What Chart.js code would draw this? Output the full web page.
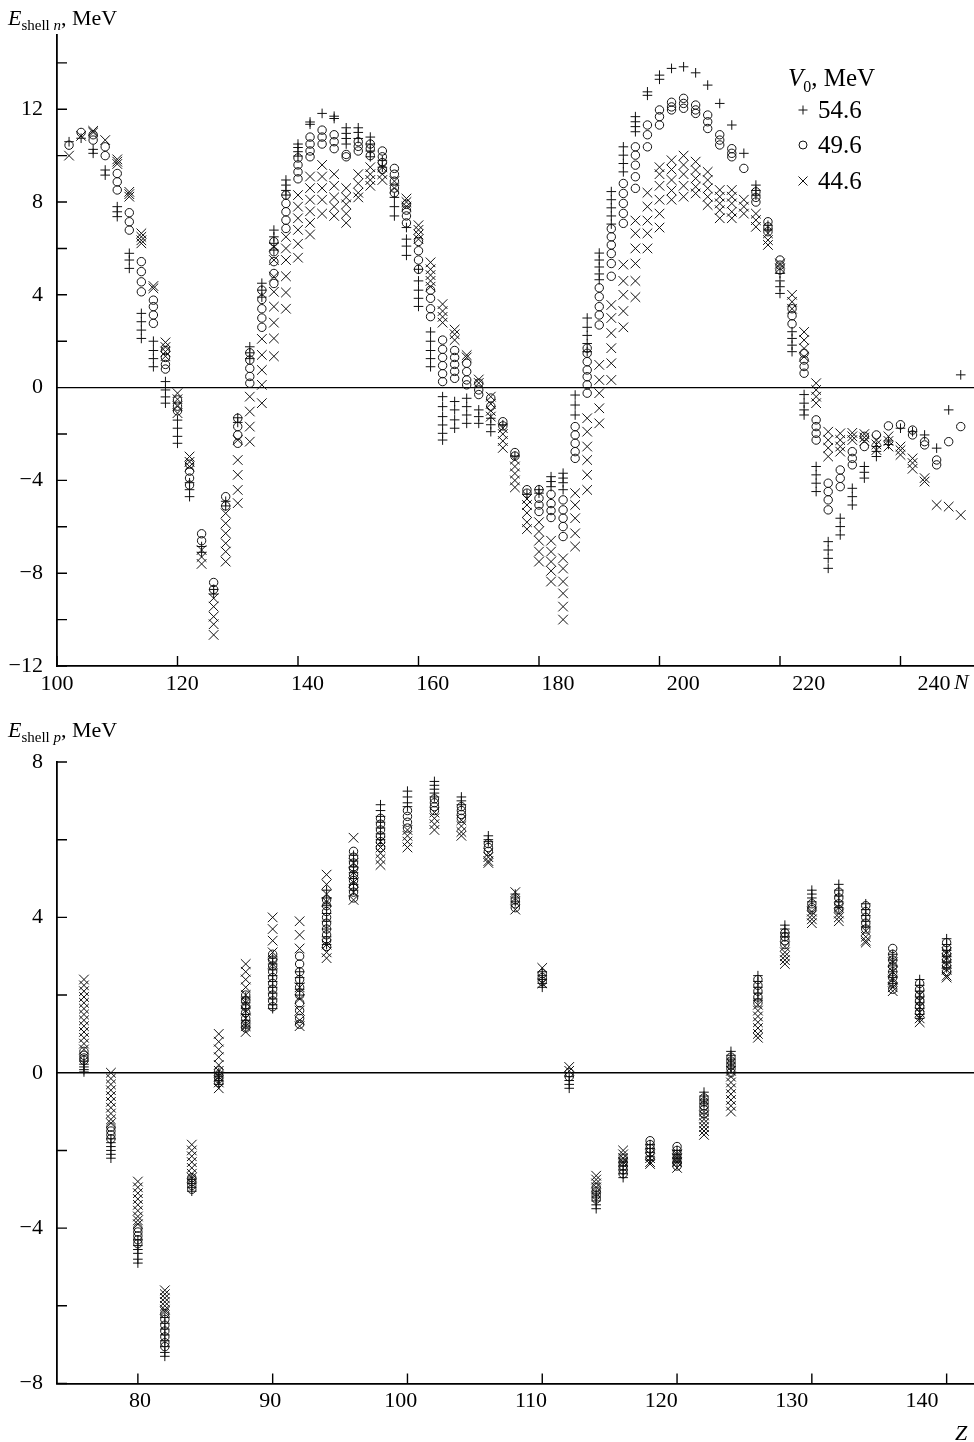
<!DOCTYPE html>
<html>
<head>
<meta charset="utf-8">
<script src="https://cdn.jsdelivr.net/npm/chart.js@4.4.1/dist/chart.umd.min.js"></script>
<style>
  html, body { margin: 0; padding: 0; background: #fff; }
  #wrap { position: relative; width: 974px; height: 1442px; }
  canvas { position: absolute; left: 0; }
</style>
</head>
<body>
<div id="wrap">
  <canvas id="shellN" width="974" height="710" style="top:0"></canvas>
  <canvas id="shellP" width="974" height="732" style="top:710px"></canvas>
</div>
<script>
// potential depths, MeV
const depthLabels = ['54.6', '49.6', '44.6'];

// ---- neutron shell correction vs N ----
const neutronN = [102, 104, 106, 108, 110, 112, 114, 116, 118, 120, 122, 124, 126, 128, 130, 132, 134, 136, 138, 140,
  142, 144, 146, 148, 150, 152, 154, 156, 158, 160, 162, 164, 166, 168, 170, 172, 174, 176, 178, 180,
  182, 184, 186, 188, 190, 192, 194, 196, 198, 200, 202, 204, 206, 208, 210, 212, 214, 216, 218, 220,
  222, 224, 226, 228, 230, 232, 234, 236, 238, 240, 242, 244, 246, 248, 250];

const nPlus = [
  [10.6], [10.75], [10.27, 10.1], [9.38, 9.16], [7.8, 7.58, 7.37], [5.79, 5.5, 5.14], [3.2, 2.84, 2.48, 2.12],
  [2.0, 1.6, 1.25, 0.9], [0.26, -0.1, -0.4, -0.67], [-1.4, -1.75, -2.1, -2.4], [-4.1, -4.4, -4.7],
  [-6.85, -7.1], [-8.7, -8.9], [-4.9, -5.1], [-1.3, -1.5], [1.76, 1.5, 1.25], [4.5, 4.2, 3.9],
  [6.79, 6.5, 6.22, 5.93], [8.95, 8.73, 8.5, 8.3], [10.5, 10.35, 10.17, 9.98],
  [11.45, 11.35], [11.82], [11.7, 11.6], [11.2, 10.96, 10.74, 10.5], [11.2, 11.0, 10.74],
  [10.8, 10.5, 10.2, 9.95], [9.8, 9.5], [8.2, 7.8, 7.4], [6.9, 6.4, 6.1, 5.7], [5.1, 4.6, 4.2, 3.85, 3.5],
  [2.4, 2.0, 1.6, 1.25, 0.9], [-0.39, -0.82, -1.25, -1.61, -1.97, -2.26], [-0.6, -0.96, -1.39, -1.75],
  [-0.46, -0.82, -1.18, -1.54], [-0.96, -1.25, -1.54], [-1.32, -1.6, -1.9], [-1.6], [-2.95], [-4.6],
  [-4.4, -4.55],
  [-3.84, -4.05, -4.27], [-3.69, -3.9, -4.1, -4.4], [-0.32, -0.75, -1.18], [3.0, 2.6, 2.25, 1.9, 1.55],
  [5.8, 5.5, 5.2, 4.9, 4.65], [8.45, 8.1, 7.75, 7.4, 7.05], [10.38, 10.02, 9.66, 9.3],
  [11.68, 11.46, 11.25, 11.03], [12.75, 12.6], [13.47, 13.29], [13.76], [13.83], [13.57], [13.04],
  [12.25], [11.32], [10.1], [8.73, 8.5, 8.3], [7.0, 6.8], [4.92, 4.6, 4.35, 4.06],
  [2.41, 2.12, 1.83, 1.55], [-0.3, -0.67, -0.96, -1.18], [-3.4, -3.76, -4.12, -4.48],
  [-6.64, -7.0, -7.36, -7.79], [-5.63, -5.99, -6.35], [-4.34, -4.7, -5.06], [-3.4, -3.65, -3.9],
  [-2.54, -2.75, -2.97], [-2.3, -2.45], [-1.75], [-1.9], [-2.04], [-2.61], [-0.96], [0.55]
];

const nCircle = [
  [10.45], [11.0], [10.9, 10.67], [10.38, 10.0], [9.23, 8.87, 8.52], [7.54, 7.15, 6.79], [5.43, 5.0, 4.56, 4.13],
  [3.77, 3.49, 3.13, 2.77], [1.6, 1.3, 1.0, 0.8], [-0.53, -0.8, -1.0], [-3.3, -3.6, -3.9, -4.2],
  [-6.3, -6.6], [-8.4, -8.7], [-4.7, -5.1], [-1.32, -1.68, -2.04, -2.4], [1.5, 1.19, 0.83, 0.48, 0.19],
  [4.2, 3.8, 3.4, 3.0, 2.6], [6.29, 5.86, 5.43, 4.92, 4.49], [8.3, 7.94, 7.58, 7.22, 6.86], [9.9, 9.6, 9.3, 9.0],
  [10.8, 10.5, 10.2, 9.95], [11.1, 10.8, 10.5], [10.9, 10.6, 10.3], [10.05, 9.95], [10.6, 10.4, 10.2],
  [10.5, 10.3, 10.0], [10.2, 9.95, 9.7, 9.4], [9.45, 9.2, 8.9, 8.6, 8.4], [7.9, 7.65, 7.4, 7.1], [6.3, 5.9, 5.5, 5.1],
  [4.2, 3.85, 3.4, 3.06], [2.05, 1.65, 1.3, 0.95, 0.6, 0.26], [1.6, 1.3, 1.0, 0.7, 0.4],
  [1.05, 0.69, 0.33, 0.12], [0.19, -0.1, -0.3], [-0.45, -0.8], [-1.47, -1.65], [-2.8, -2.95], [-4.4, -4.55],
  [-4.4, -4.77, -5.06, -5.34],
  [-4.6, -5.0, -5.3, -5.6], [-4.84, -5.27, -5.63, -5.99, -6.42], [-1.68, -2.04, -2.4, -2.76, -3.05],
  [1.7, 1.48, 1.12, 0.76, 0.47, 0.12, -0.24], [4.3, 3.92, 3.49, 3.13, 2.7], [6.85, 6.5, 6.15, 5.78, 5.35, 4.8],
  [8.8, 8.37, 7.94, 7.51, 7.08], [10.38, 10.02, 9.59, 9.09, 8.59], [11.32, 10.9, 10.38], [11.97, 11.68, 11.32],
  [12.3, 12.1, 11.97], [12.47, 12.25, 12.04], [12.18, 11.97, 11.82], [11.75, 11.46, 11.17],
  [10.9, 10.67, 10.46], [10.3, 10.1, 9.95], [9.45], [8.44, 8.2, 8.0], [7.15, 6.93, 6.72], [5.5, 5.28, 5.07],
  [3.4, 3.1, 2.75], [1.48, 1.19, 0.91, 0.62], [-1.39, -1.68, -1.97, -2.26], [-4.12, -4.48, -4.84, -5.27],
  [-3.55, -3.91, -4.27], [-2.76, -3.05, -3.33], [-2.1, -2.54], [-2.04], [-1.65], [-1.6], [-1.83, -2.04],
  [-2.33, -2.47], [-3.12, -3.33], [-2.33], [-1.68]
];

const nCross = [
  [10.0], [10.85], [11.07, 11.0], [10.67], [9.84, 9.74, 9.64], [8.44, 8.34, 8.23], [6.65, 6.5, 6.35, 6.22],
  [4.38, 4.28], [1.95, 1.75, 1.55, 1.35], [-0.24, -0.5, -0.8, -1.1], [-2.97, -3.2, -3.4],
  [-7.0, -7.3, -7.6], [-9.08, -9.44, -9.87, -10.2, -10.66], [-5.42, -5.85, -6.28, -6.71, -7.07, -7.5],
  [-2.26, -3.12, -3.76, -4.41, -4.98], [-0.39, -1.03, -1.68, -2.33], [2.1, 1.41, 0.76, 0.12, -0.67],
  [6.07, 5.5, 4.78, 4.13, 3.49, 2.8, 2.12, 1.35], [6.5, 6.0, 5.5, 4.8, 4.1, 3.4], [8.3, 7.8, 7.3, 6.8, 6.2, 5.6],
  [9.1, 8.6, 8.1, 7.6, 7.1, 6.6], [9.6, 9.1, 8.6, 8.1, 7.5], [9.2, 8.7, 8.2, 7.8, 7.4], [8.6, 8.2, 7.9, 7.5, 7.1],
  [9.2, 8.8, 8.4, 8.2], [9.5, 9.2, 8.95, 8.7], [9.5, 9.2, 8.95], [8.9, 8.6], [8.15, 8.0, 7.8], [7.0, 6.8, 6.6, 6.4],
  [5.4, 5.1, 4.85, 4.6, 4.35], [3.6, 3.3, 3.05, 2.8], [2.5, 2.3, 2.05], [1.4, 1.3], [0.35, 0.2],
  [-0.39, -0.7, -1.0, -1.25], [-1.75, -2.0, -2.3, -2.6], [-3.1, -3.4, -3.7, -4.0, -4.3],
  [-4.8, -5.06, -5.4, -5.8, -6.1], [-5.8, -6.2, -6.6, -7.07, -7.5],
  [-6.6, -7.07, -7.5, -7.9, -8.36], [-7.36, -7.8, -8.36, -8.87, -9.44, -10.0], [-4.55, -5.06, -5.63, -6.28, -6.85],
  [-1.32, -1.9, -2.54, -3.12, -3.76, -4.41], [0.98, 0.33, -0.24, -0.89, -1.54], [3.56, 3.0, 2.35, 1.7, 1.05, 0.33],
  [5.3, 4.6, 4.0, 3.3, 2.6], [7.2, 6.65, 6.0, 5.35, 4.6, 3.9], [8.4, 7.8, 7.2, 6.65, 6.0],
  [9.5, 9.2, 8.7, 8.1, 7.5, 6.9], [9.8, 9.4, 8.95, 8.5, 8.1], [10.0, 9.6, 9.2, 8.7, 8.23],
  [9.74, 9.38, 9.02, 8.66, 8.37], [9.3, 8.95, 8.59, 8.23, 7.87], [8.52, 8.23, 7.94, 7.65, 7.3],
  [8.52, 8.23, 7.94, 7.58, 7.3], [8.1, 7.8, 7.5], [7.5, 7.22, 6.93], [6.65, 6.36, 6.15], [5.35, 5.14],
  [4.0, 3.7, 3.4], [2.4, 2.05, 1.69, 1.33], [0.19, -0.1, -0.39, -0.67], [-1.9, -2.26, -2.6, -2.97],
  [-1.97, -2.26, -2.54, -2.76], [-1.95, -2.1, -2.26], [-2.0, -2.15, -2.3], [-2.26, -2.45, -2.69],
  [-2.1, -2.3, -2.54], [-2.54, -2.7, -2.9], [-3.05, -3.25, -3.5], [-3.9, -4.05], [-5.06], [-5.13], [-5.49]
];

const nTicksX = [100, 120, 140, 160, 180, 200, 220, 240];
const nTicksY = [-12, -10, -8, -6, -4, -2, 0, 2, 4, 6, 8, 10, 12, 14];

// ---- proton shell correction vs Z ----
const protonZ = [76, 78, 80, 82, 84, 86, 88, 90, 92, 94, 96, 98, 100, 102, 104, 106, 108,
  110, 112, 114, 116, 118, 120, 122, 124, 126, 128, 130, 132, 134, 136, 138, 140];

const pPlus = [
  [0.3, 0.22, 0.15, 0.08, 0.02], [-1.7, -1.8, -1.9, -2.0, -2.1, -2.2], [-4.3, -4.45, -4.55, -4.65, -4.8, -4.9],
  [-6.3, -6.45, -6.6, -6.75, -6.9, -7.05, -7.2, -7.3], [-2.75, -2.85, -2.95, -3.05], [0.0, -0.1, -0.2, -0.3],
  [1.95, 1.8, 1.65, 1.5, 1.35, 1.2], [2.95, 2.8, 2.65, 2.5, 2.35, 2.2, 2.05, 1.9, 1.75, 1.65],
  [2.6, 2.45, 2.3, 2.15, 2.0], [4.7, 4.5, 4.3, 4.1, 3.9, 3.7, 3.5, 3.3], [5.6, 5.45, 5.3, 5.15, 5.0, 4.85, 4.7],
  [6.9, 6.75, 6.6, 6.45, 6.3, 6.15, 6.0], [7.25, 7.1, 6.95, 6.85], [7.5, 7.4, 7.3, 7.2, 7.1], [7.1, 7.0, 6.9],
  [6.1, 6.0, 5.95], [4.6, 4.5, 4.4],
  [2.6, 2.5, 2.4, 2.3, 2.2], [-0.1, -0.2, -0.3, -0.4], [-3.1, -3.2, -3.3, -3.4, -3.5], [-2.3, -2.4, -2.5, -2.6, -2.7],
  [-1.85, -1.95, -2.05, -2.15, -2.25], [-2.0, -2.1, -2.2, -2.3], [-0.5, -0.6, -0.7, -0.8],
  [0.55, 0.45, 0.35, 0.25, 0.15], [2.5, 2.35, 2.2, 2.05, 1.9], [3.8, 3.7, 3.6, 3.5], [4.7, 4.6, 4.5, 4.4],
  [4.85, 4.7, 4.55, 4.4, 4.25], [4.35, 4.2, 4.05, 3.9, 3.75], [3.05, 2.9, 2.75, 2.6, 2.45, 2.3],
  [2.4, 2.25, 2.1, 1.95, 1.8, 1.65, 1.5, 1.4], [3.45, 3.3, 3.15, 3.0, 2.85, 2.7]
];

const pCircle = [
  [0.55, 0.45, 0.38, 0.32], [-1.4, -1.5, -1.6, -1.7], [-4.0, -4.1, -4.2, -4.3, -4.4],
  [-6.2, -6.35, -6.5, -6.65, -6.8, -6.95, -7.05], [-2.7, -2.8, -2.9, -3.0], [0.05, -0.05, -0.15, -0.25],
  [2.0, 1.85, 1.7, 1.55, 1.4, 1.25, 1.15], [3.05, 2.9, 2.75, 2.6, 2.45, 2.3, 2.15, 2.0, 1.85, 1.7],
  [3.0, 2.8, 2.6, 2.4, 2.2, 2.0, 1.8, 1.6, 1.4, 1.25], [4.45, 4.3, 4.15, 4.0, 3.85, 3.7, 3.55, 3.4, 3.25],
  [5.7, 5.55, 5.4, 5.25, 5.1, 4.95, 4.8, 4.65, 4.5], [6.55, 6.4, 6.25, 6.1, 5.95, 5.8], [6.75, 6.6, 6.45, 6.3],
  [7.05, 6.95, 6.85, 6.75], [6.85, 6.75, 6.65, 6.55], [5.9, 5.8, 5.7], [4.45, 4.35, 4.25],
  [2.55, 2.45, 2.35], [0.0, -0.1], [-2.95, -3.05, -3.15, -3.25], [-2.2, -2.3, -2.4, -2.5, -2.6],
  [-1.75, -1.85, -1.95, -2.05], [-1.9, -2.0, -2.1, -2.2, -2.3, -2.4], [-0.65, -0.75, -0.85, -0.95, -1.05],
  [0.4, 0.3, 0.2, 0.1, 0.0], [2.4, 2.25, 2.1, 1.95, 1.8], [3.6, 3.5, 3.4, 3.3], [4.35, 4.25, 4.2],
  [4.65, 4.5, 4.35, 4.2], [4.3, 4.15, 4.0, 3.85, 3.7], [3.2, 3.05, 2.9, 2.75, 2.6, 2.45, 2.3, 2.15],
  [2.3, 2.15, 2.0, 1.85, 1.7, 1.55], [3.35, 3.2, 3.05, 2.9, 2.75, 2.6]
];

const pCross = [
  [2.4, 2.25, 2.1, 1.95, 1.8, 1.65, 1.5, 1.35, 1.2, 1.05, 0.9, 0.75, 0.6],
  [0.0, -0.15, -0.3, -0.45, -0.6, -0.75, -0.9, -1.05, -1.2, -1.3],
  [-2.8, -2.95, -3.1, -3.25, -3.4, -3.55, -3.7, -3.8, -3.9], [-5.6, -5.7, -5.8, -5.9, -6.0, -6.1, -6.15],
  [-1.85, -2.0, -2.15, -2.3, -2.45, -2.6, -2.7], [1.0, 0.8, 0.6, 0.4, 0.2, 0.05, -0.1, -0.25, -0.4],
  [2.8, 2.6, 2.4, 2.2, 2.0, 1.8, 1.6, 1.4, 1.2, 1.05], [4.0, 3.7, 3.4, 3.1, 2.8],
  [3.9, 3.55, 3.2, 2.2, 1.9, 1.6, 1.35, 1.2], [5.1, 4.85, 4.6, 4.4, 3.3, 3.1, 2.95],
  [6.05, 5.4, 5.15, 4.9, 4.65, 4.45], [5.95, 5.8, 5.65, 5.5, 5.35], [6.25, 6.1, 5.95, 5.8],
  [6.7, 6.55, 6.4, 6.25], [6.5, 6.35, 6.2, 6.1], [5.65, 5.55, 5.45, 5.4], [4.65, 4.2],
  [2.7, 2.3], [0.15, 0.05], [-2.65, -2.75, -2.85, -2.95], [-2.0, -2.1, -2.2, -2.3], [-2.1, -2.2, -2.3, -2.35],
  [-2.1, -2.2, -2.3, -2.45], [-1.0, -1.1, -1.2, -1.3, -1.4, -1.5, -1.6],
  [0.05, -0.1, -0.25, -0.4, -0.55, -0.7, -0.85, -1.0], [1.75, 1.6, 1.45, 1.3, 1.15, 1.0, 0.9],
  [3.25, 3.1, 3.0, 2.9, 2.8], [4.15, 4.05, 3.95, 3.85], [4.25, 4.1, 4.0, 3.9], [3.65, 3.5, 3.4, 3.35],
  [2.85, 2.6, 2.4, 2.2, 2.1], [2.0, 1.85, 1.7, 1.55, 1.4, 1.3], [3.1, 2.95, 2.8, 2.65, 2.5, 2.45]
];

const pTicksX = [80, 90, 100, 110, 120, 130, 140];
const pTicksY = [-8, -6, -4, -2, 0, 2, 4, 6, 8];

const SERIF = '"Liberation Serif", "Times New Roman", serif';
const minus = v => String(v).replace('-', '\u2212');

// flatten columns of values into {x, y} points
function columns(xs, cols) {
  return xs.flatMap((x, i) => cols[i].map(y => ({ x: x, y: y })));
}

function makeSets(xs, plus, circ, cross) {
  const base = { showLine: false, borderColor: '#111', backgroundColor: 'rgba(0,0,0,0)', pointBorderWidth: 1 };
  return [
    Object.assign({ label: depthLabels[0], data: columns(xs, plus), pointStyle: 'cross', pointRadius: 4.8 }, base),
    Object.assign({ label: depthLabels[1], data: columns(xs, circ), pointStyle: 'circle', pointRadius: 4.2 }, base),
    Object.assign({ label: depthLabels[2], data: columns(xs, cross), pointStyle: 'crossRot', pointRadius: 6.8 }, base)
  ];
}

// draws text runs with different fonts / baseline shifts
function runs(ctx, parts, x, y) {
  parts.forEach(p => {
    ctx.font = p[1];
    ctx.fillText(p[0], x, y + (p[2] || 0));
    x += ctx.measureText(p[0]).width;
  });
}

// zero line and inward tick marks
const frame = {
  id: 'frame',
  beforeDatasetsDraw(chart) {
    const { ctx, chartArea: a } = chart;
    const x = chart.scales.x, y = chart.scales.y;
    ctx.save();
    ctx.strokeStyle = '#000';
    ctx.lineWidth = 1.4;
    ctx.beginPath();
    const y0 = y.getPixelForValue(0);
    ctx.moveTo(a.left, y0);
    ctx.lineTo(a.right, y0);
    x.ticks.forEach(t => {
      const px = x.getPixelForValue(t.value);
      ctx.moveTo(px, a.bottom);
      ctx.lineTo(px, a.bottom - 10);
    });
    y.ticks.forEach(t => {
      const py = y.getPixelForValue(t.value);
      ctx.moveTo(a.left, py);
      ctx.lineTo(a.left + 10, py);
    });
    ctx.stroke();
    ctx.restore();
  }
};

// x: data axis (line + tick marks); xl: the printed numbers, which sit on a slightly different spacing
function options(xr, xlr, yr, xt, yt, topPad, xHeight) {
  return {
    responsive: false,
    animation: false,
    events: [],
    layout: { autoPadding: false, padding: { top: topPad, left: 0, right: 0, bottom: 0 } },
    plugins: { legend: { display: false }, tooltip: { enabled: false } },
    scales: {
      x: {
        type: 'linear', min: xr[0], max: xr[1], weight: 0,
        afterBuildTicks: s => { s.ticks = xt.map(v => ({ value: v })); },
        afterFit: s => { s.height = 0; },
        grid: { display: false, drawTicks: false },
        border: { display: true, color: '#000', width: 1.8 },
        ticks: { display: false }
      },
      xl: {
        type: 'linear', position: 'bottom', min: xlr[0], max: xlr[1], weight: 1,
        afterBuildTicks: s => { s.ticks = xt.map(v => ({ value: v })); },
        afterFit: s => { s.height = xHeight; },
        grid: { display: false, drawTicks: false },
        border: { display: false },
        ticks: { color: '#000', padding: 5, maxRotation: 0, font: { family: SERIF, size: 22 }, callback: v => minus(v) }
      },
      y: {
        type: 'linear', min: yr[0], max: yr[1],
        afterBuildTicks: s => { s.ticks = yt.map(v => ({ value: v })); },
        afterFit: s => { s.width = 57; },
        grid: { display: false, drawTicks: false },
        border: { display: true, color: '#000', width: 1.8 },
        ticks: { color: '#000', padding: 14, font: { family: SERIF, size: 22 }, callback: v => (v % 4 === 0 ? minus(v) : '') }
      }
    }
  };
}

// ---- upper panel ----
const textN = {
  id: 'textN',
  afterDraw(chart) {
    const ctx = chart.ctx;
    ctx.save();
    ctx.fillStyle = '#000';
    ctx.textBaseline = 'alphabetic';
    runs(ctx, [['E', 'italic 22px ' + SERIF], ['shell ', '15px ' + SERIF, 5], ['n', 'italic 15px ' + SERIF, 5], [', MeV', '22px ' + SERIF]], 8, 25);
    runs(ctx, [['N', 'italic 22px ' + SERIF]], 954, 689);

    // legend
    runs(ctx, [['V', 'italic 25px ' + SERIF], ['0', '16px ' + SERIF, 6], [', MeV', '25px ' + SERIF]], 788, 86);
    const rowsY = [110, 145, 181];
    ctx.strokeStyle = '#111';
    ctx.lineWidth = 1;
    chart.data.datasets.forEach((ds, i) => {
      const cx = 803, cy = rowsY[i];
      ctx.beginPath();
      if (ds.pointStyle === 'cross') {
        ctx.moveTo(cx - 4.5, cy); ctx.lineTo(cx + 4.5, cy);
        ctx.moveTo(cx, cy - 4.5); ctx.lineTo(cx, cy + 4.5);
      } else if (ds.pointStyle === 'circle') {
        ctx.arc(cx, cy, 4, 0, Math.PI * 2);
      } else {
        ctx.moveTo(cx - 4.5, cy - 4.5); ctx.lineTo(cx + 4.5, cy + 4.5);
        ctx.moveTo(cx + 4.5, cy - 4.5); ctx.lineTo(cx - 4.5, cy + 4.5);
      }
      ctx.stroke();
      ctx.font = '25px ' + SERIF;
      ctx.fillText(ds.label, 818, cy + 8);
    });
    ctx.restore();
  }
};

new Chart(document.getElementById('shellN'), {
  type: 'scatter',
  data: { datasets: makeSets(neutronN, nPlus, nCircle, nCross) },
  options: options([100, 252.2], [100, 246.4], [-12, 15.2], nTicksX, nTicksY, 35, 44),
  plugins: [frame, textN]
});

// ---- lower panel ----
const textP = {
  id: 'textP',
  afterDraw(chart) {
    const ctx = chart.ctx;
    ctx.save();
    ctx.fillStyle = '#000';
    runs(ctx, [['E', 'italic 22px ' + SERIF], ['shell ', '15px ' + SERIF, 5], ['p', 'italic 15px ' + SERIF, 5], [', MeV', '22px ' + SERIF]], 8, 27);
    runs(ctx, [['Z', 'italic 22px ' + SERIF]], 955, 730);
    ctx.restore();
  }
};

new Chart(document.getElementById('shellP'), {
  type: 'scatter',
  data: { datasets: makeSets(protonZ, pPlus, pCircle, pCross) },
  options: options([74.0, 142.03], [73.63, 143.99], [-8, 8], pTicksX, pTicksY, 52, 58.5),
  plugins: [frame, textP]
});
</script>
</body>
</html>
